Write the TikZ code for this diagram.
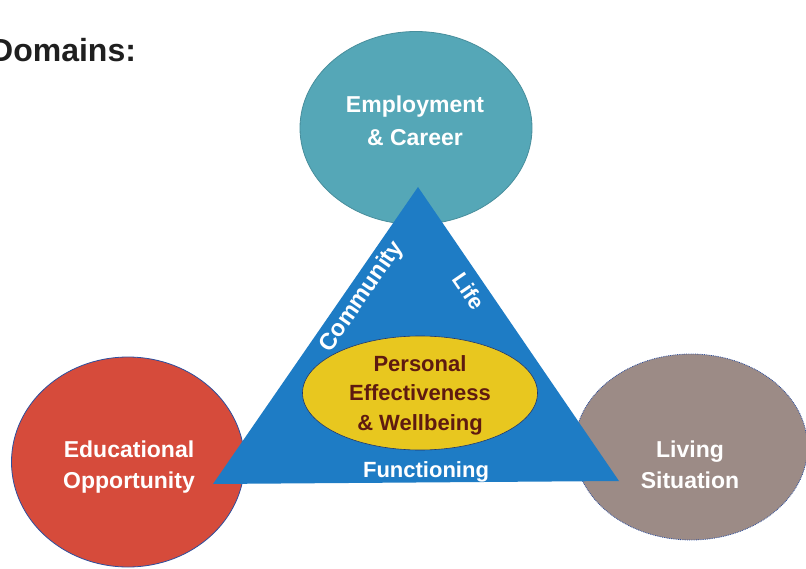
\documentclass[tikz,border=0pt]{standalone}
\usepackage{fontspec}
\setmainfont{Liberation Sans}
\usetikzlibrary{shapes.geometric}

\definecolor{empteal}{HTML}{55A7B7}
\definecolor{edured}{HTML}{D64B3B}
\definecolor{livgrey}{HTML}{9C8B86}
\definecolor{triblue}{HTML}{1E7CC5}
\definecolor{coreyellow}{HTML}{E8C71F}
\definecolor{corered}{HTML}{5E1A10}
\definecolor{rimblue}{HTML}{2D4F9E}

\begin{document}
\begin{tikzpicture}[x=1pt,y=-1pt,
  blob/.style={ellipse, inner sep=0pt, line width=0.8pt},
  wlabel/.style={font=\bfseries\fontsize{23}{31}\selectfont, align=center, inner sep=0pt, text=white},
  sidetext/.style={font=\bfseries\fontsize{22}{28}\selectfont, text=white, inner sep=0pt}
]
\useasboundingbox (0,0) rectangle (806,569);
\clip (0,0) rectangle (806,569);

% heading, its first letter runs off the left edge
\node[anchor=base west, inner sep=0pt, text=black!88,
      font=\bfseries\fontsize{32}{36}\selectfont] (head) at (-10,62) {Domains:};

% the three outer domains
\node[blob, fill=empteal, draw=empteal!85!black, minimum width=232pt, minimum height=193pt] (emp) at (416,128) {};
\node[blob, fill=edured, draw=rimblue, minimum width=233pt, minimum height=210pt] (edu) at (128,462) {};
\node[blob, fill=livgrey, draw=rimblue, densely dotted, minimum width=233pt, minimum height=186pt] (liv) at (691,447) {};

% central triangle
\coordinate (tA) at (418,187);
\coordinate (tB) at (213,484);
\coordinate (tC) at (619,481);
\fill[triblue] (tA) -- (tB) -- (tC) -- cycle;

% inner core
\node[blob, fill=coreyellow, draw=rimblue!70!black, line width=0.6pt,
      minimum width=235pt, minimum height=114pt] (core) at (420,393) {};

% outer domain labels
\node[wlabel] (empT) at (415,121) {Employment\\[2pt]\& Career};
\node[wlabel] (eduT) at (129,467) {Educational\\Opportunity};
\node[wlabel] (livT) at (690,465) {Living\\Situation};

% triangle side labels
\node[sidetext, font=\bfseries\fontsize{23.5}{28}\selectfont, rotate=55.4] (comm) at (362,297) {Community};
\node[sidetext, rotate=-55.6] (life) at (469,291) {Life};
\begin{scope}
  \clip (tA) -- (tB) -- (tC) -- cycle;
  \node[sidetext, anchor=base] (func) at (426,477) {Functioning};
\end{scope}

% core label
\node[font=\bfseries\fontsize{22}{29.5}\selectfont, text=corered, align=center, inner sep=0pt]
  (coreT) at (420,395) {Personal\\Effectiveness\\\& Wellbeing};
\end{tikzpicture}
\end{document}
